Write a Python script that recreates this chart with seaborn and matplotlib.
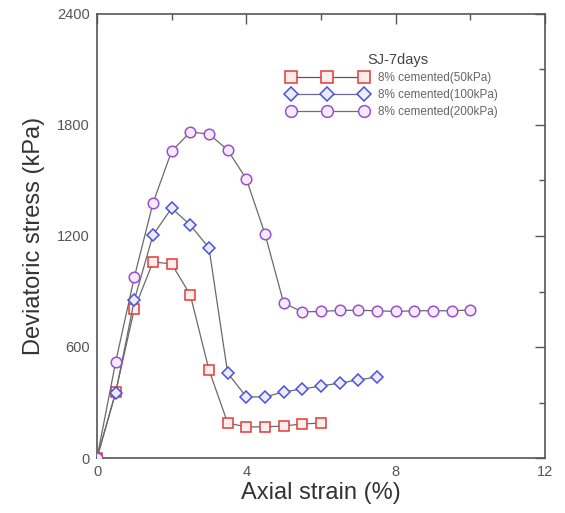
import numpy as np
import pandas as pd
import seaborn as sns
import matplotlib
matplotlib.use("Agg")
import matplotlib.pyplot as plt
from matplotlib.lines import Line2D
from matplotlib.ticker import MultipleLocator

# Triaxial test results: deviatoric stress vs axial strain
strain_50 = [0, 0.5, 1.0, 1.5, 2.0, 2.5, 3.0, 3.5, 4.0, 4.5, 5.0, 5.5, 6.0]
stress_50 = [0, 357, 805, 1060, 1049, 881, 476, 189, 168, 168, 173, 184, 189]

strain_100 = [0, 0.5, 1.0, 1.5, 2.0, 2.5, 3.0, 3.5, 4.0, 4.5, 5.0, 5.5, 6.0, 6.5, 7.0, 7.5]
stress_100 = [0, 352, 854, 1205, 1351, 1259, 1135, 459, 330, 330, 357, 373, 389, 405, 422, 438]

strain_200 = [0, 0.5, 1.0, 1.5, 2.0, 2.5, 3.0, 3.5, 4.0, 4.5, 5.0, 5.5, 6.0,
              6.5, 7.0, 7.5, 8.0, 8.5, 9.0, 9.5, 10.0]
stress_200 = [0, 519, 978, 1378, 1659, 1762, 1751, 1665, 1508, 1211, 838, 790, 792,
              798, 798, 796, 792, 796, 796, 796, 800]

series_labels = ["8% cemented(50kPa)", "8% cemented(100kPa)", "8% cemented(200kPa)"]
legend_title = "SJ-7days"

sns.set_style("white")
plt.rcParams["font.family"] = ["Liberation Sans", "DejaVu Sans"]

W, H = 565, 513
fig = plt.figure(figsize=(W / 100, H / 100), dpi=100)
ax = fig.add_axes([97 / W, 1 - 458 / H, (545 - 97) / W, (458 - 14) / H])

styles = [
    dict(marker="s", edge="#e03a3a", face="#fdeeee", ms=7.2, lms=8.5),
    dict(marker="D", edge="#4b50e0", face="#ecedfc", ms=6.2, lms=7.0),
    dict(marker="o", edge="#9a4fcf", face="#f3eafa", ms=7.6, lms=8.5),
]
data = [(strain_50, stress_50), (strain_100, stress_100), (strain_200, stress_200)]

handles = []
for (xs, ys), st, lab in zip(data, styles, series_labels):
    df = pd.DataFrame({"strain": xs, "stress": ys})
    sns.lineplot(data=df, x="strain", y="stress", ax=ax, color="#6a6a6a", lw=0.9,
                 marker=st["marker"], markersize=st["ms"], markeredgecolor=st["edge"],
                 markerfacecolor=st["face"], markeredgewidth=1.1, zorder=3)
    handles.append(Line2D([], [], color="#7a4a4a" if st["marker"] == "s" else "#6a6a8a",
                          lw=0.9, marker=st["marker"], markersize=st["lms"],
                          markeredgecolor=st["edge"], markerfacecolor=st["face"],
                          markeredgewidth=1.1, label=lab))

ax.set_xlim(0, 12)
ax.set_ylim(0, 2400)
ax.xaxis.set_major_locator(MultipleLocator(4))
ax.xaxis.set_minor_locator(MultipleLocator(2))
ax.yaxis.set_major_locator(MultipleLocator(600))
ax.yaxis.set_minor_locator(MultipleLocator(300))
ax.tick_params(which="both", direction="in", top=True, right=True, color="#555555")
ax.tick_params(which="major", length=7, width=1, labelsize=10.5, labelcolor="#555555", pad=5)
ax.tick_params(which="minor", length=4, width=1)
for s in ax.spines.values():
    s.set_color("#555555")
    s.set_linewidth(1.2)

ax.set_xlabel("Axial strain (%)", fontsize=17, color="#333333", labelpad=2)
ax.set_ylabel("Deviatoric stress (kPa)", fontsize=17, color="#333333", labelpad=9)

leg = ax.legend(handles=handles, loc="upper left",
                bbox_to_anchor=(287 / W, 1 - 72 / H), bbox_transform=fig.transFigure,
                frameon=False, fontsize=8.5, numpoints=3, handlelength=6.8,
                handletextpad=0.9, labelspacing=0.42, borderpad=0, borderaxespad=0,
                labelcolor="#666666")
fig.text(367 / W, 1 - 60 / H, legend_title, fontsize=10.5, color="#444444",
         ha="left", va="center")

fig.savefig("out.png", dpi=100, facecolor="white")
